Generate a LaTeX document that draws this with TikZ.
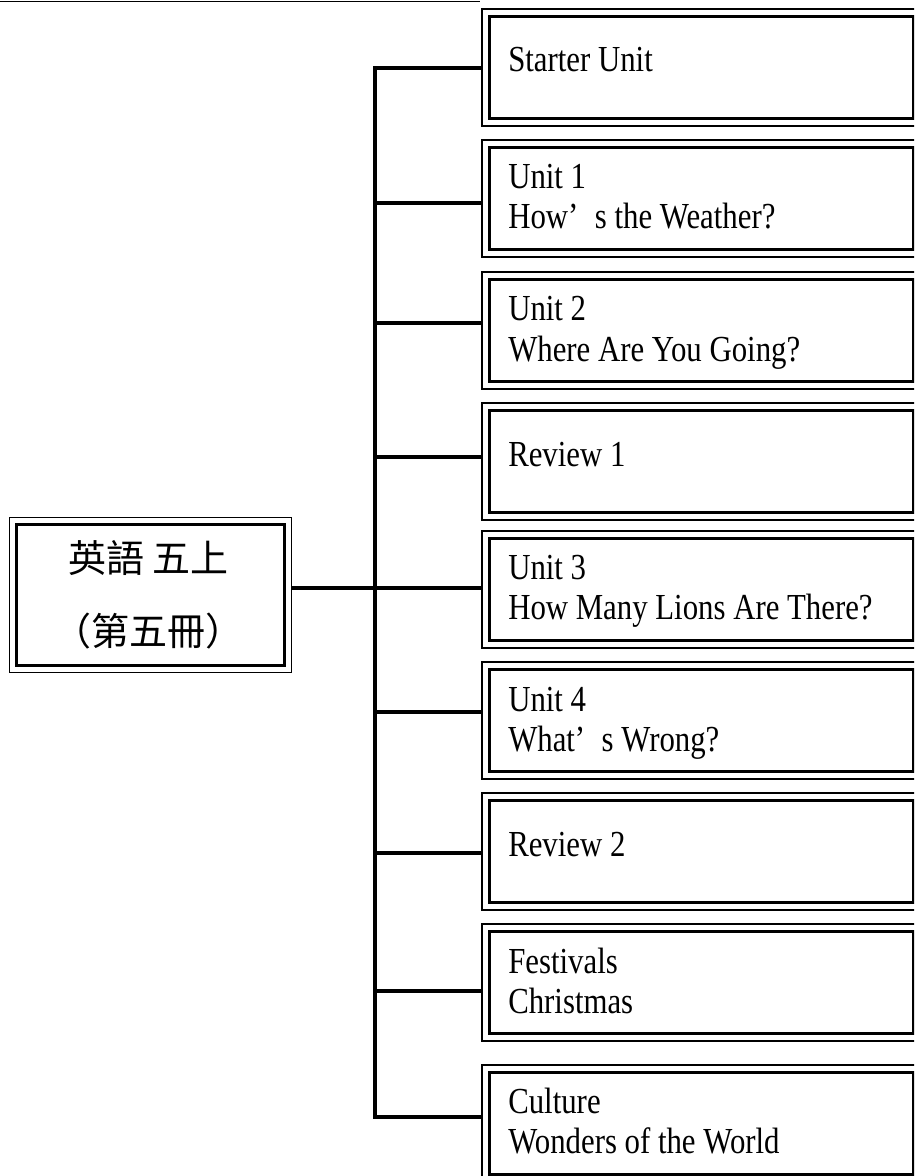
\documentclass[tikz,border=0pt]{standalone}
\usepackage{fontspec}
\setmainfont{Liberation Serif}[FakeStretch=0.84]
\newfontfamily\cjk{Noto Sans CJK TC}
\usetikzlibrary{calc}

\begin{document}
\begin{tikzpicture}[x=0.75pt,y=-0.75pt,
    unitbox/.style={draw,line width=2.25pt,inner sep=0pt,anchor=north west,
      minimum width=318pt,minimum height=76.5pt},
    rim/.style={line width=1.1pt},
    branch/.style={line width=2.6pt},
    unittext/.style={anchor=base west,align=left,inner sep=0pt,
      font=\fontsize{27.5}{30}\selectfont}]

    \useasboundingbox (0,0) rectangle (914,1176);
    \clip (0,0) rectangle (914,1176);

    \coordinate (rulestart) at (0,1.5);
    \coordinate (ruleend) at (480,1.5);
    \draw[rim] (rulestart) -- (ruleend);% rule along the top edge

    % the book itself
    \node[draw,line width=2.25pt,inner sep=0pt,anchor=north west,
      minimum width=201pt,minimum height=105.75pt] (book) at (15,523) {};
    \draw[rim] ([shift={(-5.5,-5.5)}]book.north west) rectangle ([shift={(5.5,5.5)}]book.south east);
    \node[font=\cjk\fontsize{28.5}{30}\selectfont] (booktitle) at (148.5,558) {英語 五上};
    \node[font=\cjk\fontsize{28.5}{30}\selectfont] (bookvol) at (148.5,631) {（第五冊）};

    \foreach \ytop/\yj/\yb/\name/\txt in {%
      9/68/63/u0/{Starter Unit},
      140/203/89/u1/{Unit 1\\How’\hspace{0.45em}s the Weather?},
      272/323/89/u2/{Unit 2\\Where Are You Going?},
      403/457/63/u3/{Review 1},
      531/588/88/u4/{Unit 3\\How Many Lions Are There?},
      662/712/89/u5/{Unit 4\\What’\hspace{0.45em}s Wrong?},
      793/853/63/u6/{Review 2},
      924/991/89/u7/{Festivals\\Christmas},
      1065/1117/88/u8/{Culture\\Wonders of the World}}{% one box per unit
        \node[unitbox] (\name) at (488,\ytop+6) {};
        \draw[rim] ([shift={(-6,-6)}]\name.north west) rectangle ([shift={(6,6)}]\name.south east);
        \node[unittext] (\name t) at (508,\ytop+\yb) {\txt};% base = last line
        \coordinate (\name j) at (375,\yj);
        \draw[branch,shorten >=4.5pt] (\name j) -- (\name j -| \name.west);
    }

    \draw[branch,line cap=rect] (u0j) -- (u8j);% trunk
    \coordinate (hub) at (375,588);
    \draw[branch,shorten <=3.75pt] (hub -| book.east) -- (hub);

\end{tikzpicture}
\end{document}
